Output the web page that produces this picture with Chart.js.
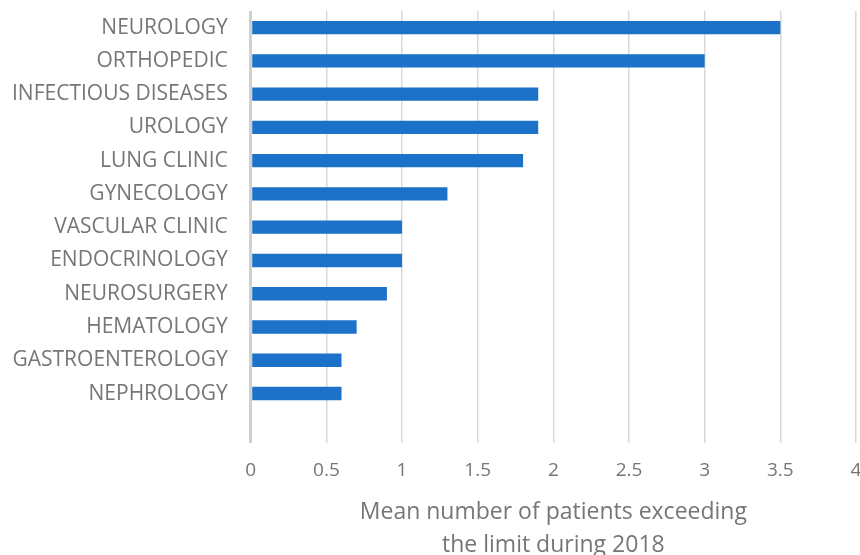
<!DOCTYPE html>
<html>
<head>
<meta charset="utf-8">
<script src="https://cdn.jsdelivr.net/npm/chart.js@4"></script>
<style>
  html, body { margin: 0; padding: 0; background: #fff; }
  #wrap { width: 860px; height: 555px; }
</style>
</head>
<body>
<div id="wrap"><canvas id="deptChart" width="860" height="555"></canvas></div>
<script>
// Departments, top to bottom (last slot is empty in the original)
const departments = [
  "NEUROLOGY", "ORTHOPEDIC", "INFECTIOUS DISEASES", "UROLOGY", "LUNG CLINIC",
  "GYNECOLOGY", "VASCULAR CLINIC", "ENDOCRINOLOGY", "NEUROSURGERY",
  "HEMATOLOGY", "GASTROENTEROLOGY", "NEPHROLOGY", ""
]
const meanPatients = [3.5, 3.0, 1.9, 1.9, 1.8, 1.3, 1.0, 1.0, 0.9, 0.7, 0.6, 0.6, null]
const axisTitle = ["Mean number of patients exceeding", "the limit during 2018"]

const textGray = "#767676"
const font = "'Open Sans', sans-serif"

const ctx = document.getElementById("deptChart").getContext("2d")
new Chart(ctx, {
  type: "bar",
  data: {
    labels: departments,
    datasets: [
      {
        data: meanPatients,
        backgroundColor: "#1b72c8",
        barPercentage: 0.8,
        categoryPercentage: 0.5,
      },
    ],
  },
  options: {
    indexAxis: "y",
    responsive: false,
    animation: false,
    layout: { padding: { top: 11, right: 0, left: -11, bottom: -7 } },
    scales: {
      x: {
        min: 0,
        max: 4,
        afterFit: (scale) => {
          scale.paddingLeft = 0
          scale.paddingRight = 4
        },
        ticks: {
          stepSize: 0.5,
          color: textGray,
          padding: 16,
          font: { family: font, size: 19 },
          callback: (v) => String(v),
        },
        grid: {
          drawTicks: false,
          color: (c) => (c.tick && c.tick.value === 0 ? "#d0d0d0" : "#d9d9d9"),
          lineWidth: (c) => (c.tick && c.tick.value === 0 ? 3 : 1.5),
        },
        border: { display: false },
        title: {
          display: true,
          text: axisTitle,
          color: textGray,
          font: { family: font, size: 23, lineHeight: 1.43 },
          padding: { top: -2, bottom: 0 },
        },
      },
      y: {
        afterFit: (scale) => {
          scale.paddingTop = 0
          scale.paddingBottom = 0
        },
        ticks: {
          color: textGray,
          padding: 23,
          font: { family: font, size: 21 },
        },
        grid: { display: false, drawTicks: false },
        border: { display: false },
      },
    },
    plugins: {
      legend: { display: false },
      tooltip: { enabled: false },
    },
  },
})
</script>
</body>
</html>
